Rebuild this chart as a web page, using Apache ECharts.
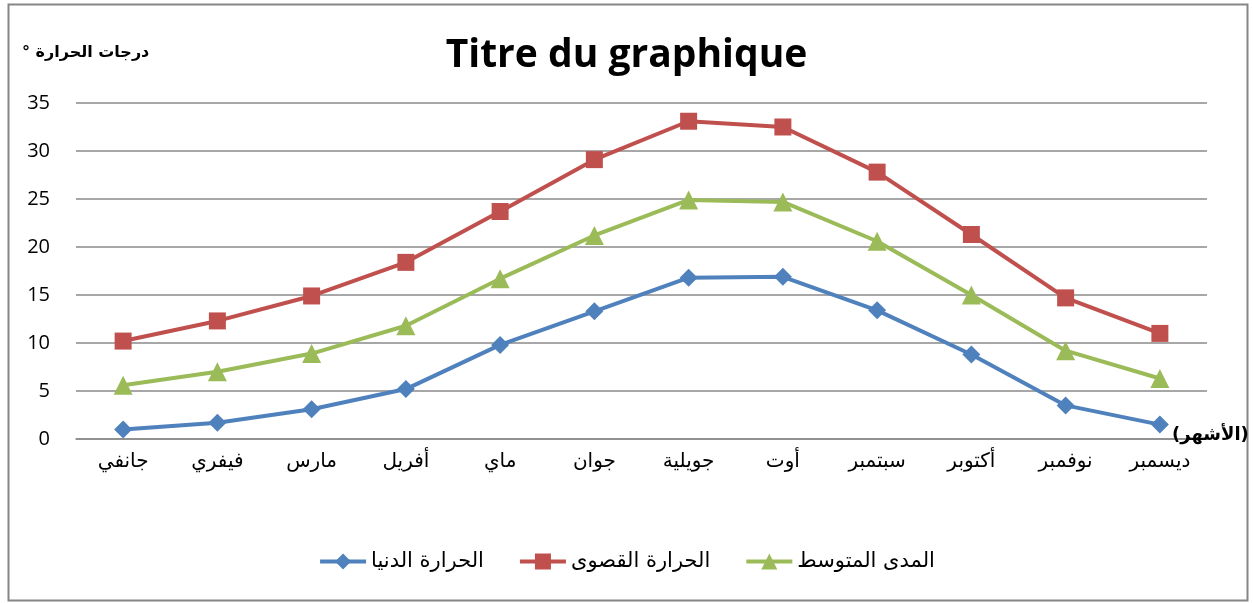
<!DOCTYPE html>
<html>
<head>
<meta charset="utf-8">
<script src="https://cdn.jsdelivr.net/npm/echarts@6/dist/echarts.min.js"></script>
<style>
  html, body { margin: 0; padding: 0; background: #fff; }
  #main { width: 1253px; height: 603px; }
</style>
</head>
<body>
<div id="main"></div>
<script>
// الأشهر
var months = ['جانفي', 'فيفري', 'مارس', 'أفريل', 'ماي', 'جوان', 'جويلية', 'أوت', 'سبتمبر', 'أكتوبر', 'نوفمبر', 'ديسمبر'];
var minTemp = [1.0, 1.7, 3.1, 5.2, 9.8, 13.3, 16.8, 16.9, 13.4, 8.8, 3.5, 1.5];
var maxTemp = [10.2, 12.3, 14.9, 18.4, 23.7, 29.1, 33.1, 32.5, 27.8, 21.3, 14.7, 11.0];
var avgTemp = [5.6, 7.0, 8.9, 11.8, 16.7, 21.2, 24.9, 24.7, 20.6, 15.0, 9.2, 6.3];
var yTicks = [0, 5, 10, 15, 20, 25, 30, 35];

var myChart = echarts.init(document.getElementById('main'));

function lineSeries(name, data, color, symbol, size) {
	return {
		name: name,
		type: 'line',
		data: data,
		symbol: symbol,
		symbolSize: size,
		lineStyle: { color: color, width: 4 },
		itemStyle: { color: color },
		emphasis: { disabled: true }
	};
}

var option = {
	animation: false,
	title: [{
		text: 'Titre du graphique',
		left: 'center',
		top: 31,
		textStyle: { fontFamily: 'Open Sans', fontWeight: 'bold', fontSize: 39, color: '#000' }
	}, {
		// الدرجة على اليسار كما في الأصل
		text: '° درجات الحرارة',
		left: 17,
		top: 40,
		textStyle: { fontFamily: 'DejaVu Sans', fontWeight: 'bold', fontSize: 16, color: '#000' }
	}, {
		text: '(الأشهر)',
		left: 1167,
		top: 421,
		textStyle: { fontFamily: 'DejaVu Sans', fontWeight: 'bold', fontSize: 18, color: '#000' }
	}],
	grid: { left: 76, right: 46, top: 103, bottom: 164 },
	legend: {
		bottom: 26,
		left: 'center',
		itemWidth: 46,
		itemHeight: 20,
		itemGap: 34,
		textStyle: { fontFamily: 'DejaVu Sans', fontSize: 21, color: '#000' },
		lineStyle: { width: 4 },
		data: ['الحرارة الدنيا', 'الحرارة القصوى', 'المدى المتوسط']
	},
	xAxis: {
		type: 'category',
		data: months,
		boundaryGap: true,
		axisLine: { show: true, lineStyle: { color: '#8a8a8a', width: 1.5 } },
		axisTick: { show: false },
		axisLabel: { fontFamily: 'DejaVu Sans', fontSize: 20, color: '#000', margin: 13 }
	},
	yAxis: {
		type: 'value',
		min: yTicks[0],
		max: yTicks[yTicks.length - 1],
		interval: 5,
		axisLine: { show: false },
		axisTick: { show: false },
		axisLabel: { fontFamily: 'Open Sans', fontSize: 20, color: '#000', margin: 26 },
		splitLine: { lineStyle: { color: '#8a8a8a', width: 1.5 } }
	},
	series: [
		lineSeries('الحرارة الدنيا', minTemp, '#4F81BD', 'diamond', 18),
		lineSeries('الحرارة القصوى', maxTemp, '#C0504D', 'rect', 17),
		lineSeries('المدى المتوسط', avgTemp, '#9BBB59', 'triangle', 19)
	],
	graphic: [{
		type: 'rect',
		shape: { x: 8.5, y: 4.5, width: 1239, height: 596 },
		style: { fill: 'none', stroke: '#868686', lineWidth: 2 },
		silent: true
	}]
};

myChart.setOption(option);
</script>
</body>
</html>
